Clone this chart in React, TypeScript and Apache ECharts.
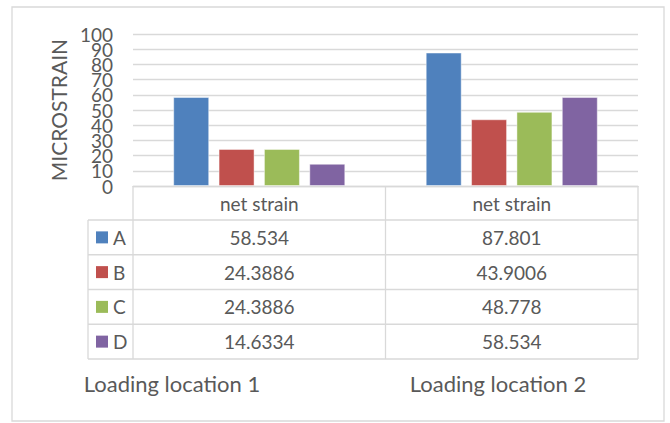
import React, { useEffect, useRef } from "react";
import * as echarts from "echarts";

// Chart data
const CATEGORIES = ["Loading location 1", "Loading location 2"];
const SERIES_NAMES = ["A", "B", "C", "D"];
const TABLE_HEADER = "net strain";
const A_VALUES = [58.534, 87.801];
const B_VALUES = [24.3886, 43.9006];
const C_VALUES = [24.3886, 48.778];
const D_VALUES = [14.6334, 58.534];
const Y_TICKS = [0, 10, 20, 30, 40, 50, 60, 70, 80, 90, 100];
const Y_MIN = 0;
const Y_MAX = 100;
const Y_INTERVAL = 10;
const Y_NAME = "MICROSTRAIN";

const SERIES_VALUES = [A_VALUES, B_VALUES, C_VALUES, D_VALUES];
const COLORS = ["#4F81BD", "#C0504D", "#9BBB59", "#8064A2"];

// Layout
const W = 670;
const H = 423;
const GRID_LEFT = 133;
const GRID_RIGHT = 638;
const GRID_TOP = 34;
const GRID_BOTTOM = 186;
const HEADER_BOTTOM = 220;
const ROW_H = 34.75;
const LEGEND_LEFT = 88;
const Y_LABEL_RIGHT = 113;
const LABEL_CENTERS = [172, 498];
const LABEL_Y = 383;
const LINE_COLOR = "#d9d9d9";
const TEXT_COLOR = "#595959";
const FONT = "Lato";

function text(
  t: string,
  x: number,
  y: number,
  size: number,
  align = "center",
  lineHeight?: number
) {
  const style: any = {
    text: t,
    fill: TEXT_COLOR,
    fontSize: size,
    fontFamily: FONT,
    align,
    textAlign: align,
    verticalAlign: "middle",
    textVerticalAlign: "middle",
  };
  if (lineHeight) style.lineHeight = lineHeight;
  return { type: "text", x, y, silent: true, style };
}

function line(x1: number, y1: number, x2: number, y2: number) {
  return {
    type: "line",
    silent: true,
    shape: { x1, y1, x2, y2 },
    style: { stroke: LINE_COLOR, lineWidth: 1.3 },
  };
}

export default function App() {
  const ref = useRef<HTMLDivElement>(null);

  useEffect(() => {
    if (!ref.current) return;
    const chart = echarts.init(ref.current, null, { renderer: "svg" });

    const band = (GRID_RIGHT - GRID_LEFT) / CATEGORIES.length;
    const tableBottom = HEADER_BOTTOM + ROW_H * SERIES_NAMES.length;
    const graphics: any[] = [];

    // outer chart frame
    graphics.push({
      type: "rect",
      silent: true,
      shape: { x: 12, y: 7, width: 652, height: 414 },
      style: { fill: "none", stroke: LINE_COLOR, lineWidth: 1.3 },
    });

    // data table grid
    graphics.push(line(LEGEND_LEFT, HEADER_BOTTOM, GRID_RIGHT, HEADER_BOTTOM));
    for (let r = 1; r <= SERIES_NAMES.length; r++) {
      const y = HEADER_BOTTOM + ROW_H * r;
      graphics.push(line(LEGEND_LEFT, y, GRID_RIGHT, y));
    }
    graphics.push(line(LEGEND_LEFT, HEADER_BOTTOM, LEGEND_LEFT, tableBottom));
    for (let c = 0; c <= CATEGORIES.length; c++) {
      const x = GRID_LEFT + band * c;
      graphics.push(line(x, GRID_BOTTOM, x, tableBottom));
    }

    // header and values
    CATEGORIES.forEach((_, c) => {
      const cx = GRID_LEFT + band * (c + 0.5);
      graphics.push(text(TABLE_HEADER, cx, (GRID_BOTTOM + HEADER_BOTTOM) / 2, 19));
      SERIES_VALUES.forEach((vals, r) => {
        const cy = HEADER_BOTTOM + ROW_H * (r + 0.5);
        graphics.push(text(String(vals[c]), cx, cy, 19));
      });
    });

    // legend keys
    SERIES_NAMES.forEach((name, r) => {
      const cy = HEADER_BOTTOM + ROW_H * (r + 0.5);
      graphics.push({
        type: "rect",
        silent: true,
        shape: { x: 96, y: cy - 6, width: 12, height: 12 },
        style: { fill: COLORS[r] },
      });
      graphics.push(text(name, 113, cy, 19, "left"));
    });

    // category labels under the table
    CATEGORIES.forEach((cat, c) => {
      graphics.push(text(cat, LABEL_CENTERS[c], LABEL_Y, 22));
    });

    chart.setOption({
      animation: false,
      backgroundColor: "#ffffff",
      grid: {
        left: GRID_LEFT,
        right: W - GRID_RIGHT,
        top: GRID_TOP,
        bottom: H - GRID_BOTTOM,
      },
      xAxis: {
        type: "category",
        data: CATEGORIES,
        axisLabel: { show: false },
        axisTick: { show: false },
        axisLine: { show: true, lineStyle: { color: LINE_COLOR, width: 1.3 } },
      },
      yAxis: {
        type: "value",
        min: Y_MIN,
        max: Y_MAX,
        interval: Y_INTERVAL,
        name: Y_NAME,
        nameLocation: "middle",
        nameRotate: 90,
        nameGap: 64,
        nameTextStyle: { color: TEXT_COLOR, fontSize: 21, fontFamily: FONT },
        // tick labels are packed tightly, so they are placed as graphic texts
        axisLabel: { show: false },
        axisLine: { show: false },
        axisTick: { show: false },
        splitLine: { lineStyle: { color: LINE_COLOR, width: 1.3 } },
      },
      series: SERIES_NAMES.map((name, i) => ({
        name,
        type: "bar",
        data: SERIES_VALUES[i],
        barWidth: 36,
        barGap: "26%",
        itemStyle: {
          color: COLORS[i],
          borderColor: "rgba(255,255,255,0.45)",
          borderWidth: 1,
        },
      })),
    });

    // value-axis tick labels positioned through the axis scale
    Y_TICKS.forEach((v) => {
      const y = chart.convertToPixel({ yAxisIndex: 0 }, v) as number;
      graphics.push(text(String(v), Y_LABEL_RIGHT, y, 19, "right", 15));
    });

    chart.setOption({ graphic: graphics });

    return () => chart.dispose();
  }, []);

  return (
    <div
      ref={ref}
      style={{ position: "fixed", left: 0, top: 0, width: W, height: H }}
    />
  );
}
